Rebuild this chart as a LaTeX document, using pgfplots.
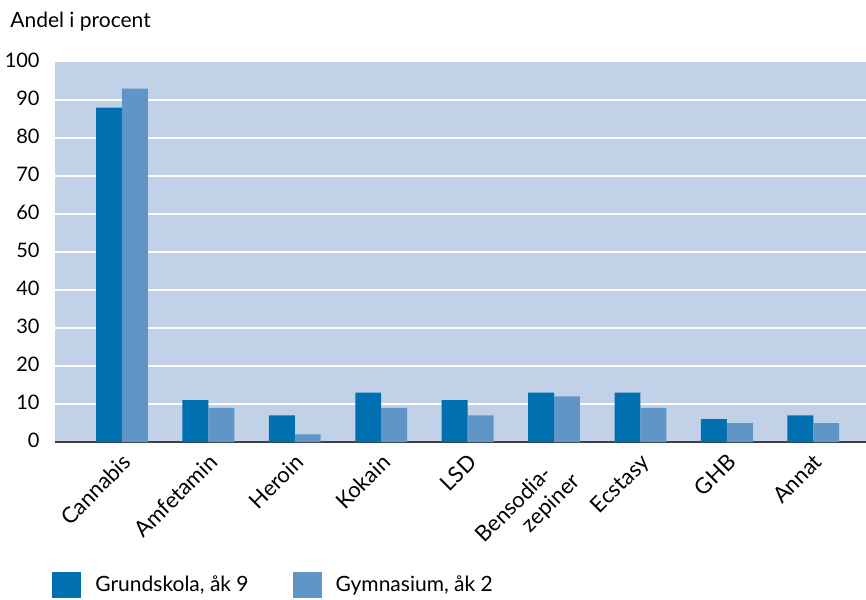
\documentclass[border=0pt]{standalone}
\usepackage{pgfplots}
\pgfplotsset{compat=1.18}
\usepackage{fontspec}
\setmainfont{Lato}
\definecolor{darkb}{HTML}{0070B0}
\definecolor{lightb}{HTML}{5F95C7}
\definecolor{bgb}{HTML}{C1D2E8}
\definecolor{axg}{HTML}{404040}
\begin{document}
\begin{tikzpicture}
\begin{axis}[
  scale only axis,
  width=405.5pt, height=190pt,
  font=\fontsize{10}{12}\selectfont,
  /pgf/number format/assume math mode=true,
  ybar=0pt, bar width=0.3,
  xmin=-0.775, xmax=8.61,
  ymin=0, ymax=100,
  xtick={0,...,8},
  xticklabels={Cannabis,Amfetamin,Heroin,Kokain,LSD,{Bensodia-\hspace*{8pt}\\\hspace*{20pt}\rlap{zepiner}},Ecstasy,GHB,Annat},
  xticklabel style={xshift=-0.5pt, yshift=-5pt, rotate=45, anchor=north east, inner sep=0pt, align=left, font=\fontsize{11}{12.5}\selectfont},
  ytick={0,10,...,90},
  extra y ticks={100},
  extra y tick style={grid=none},
  yticklabel style={inner sep=0pt, xshift=-7.5pt, yshift=1pt},
  ymajorgrids,
  major grid style={white, line width=1pt},
  major tick length=0pt,
  axis x line=bottom, axis y line=left,
  x axis line style={-, axg, line width=0.7pt},
  y axis line style={draw=none},
  axis background/.style={fill=bgb},
  legend columns=2,
  legend style={at={(rel axis cs:0,0)}, anchor=north west, xshift=-1.5pt, yshift=-65pt,
    draw=none, fill=none, inner sep=0pt,
    nodes={inner sep=0pt, anchor=west, font=\fontsize{10.5}{12}\selectfont},
    /tikz/every even column/.append style={column sep=22pt}},
  legend image code/.code={\fill[#1] (0pt,-6.5pt) rectangle (14.5pt,6.5pt); \path (21.5pt,0pt);},
]
\addplot[fill=darkb, draw=none] coordinates {(0,88) (1,11) (2,7) (3,13) (4,11) (5,13) (6,13) (7,6) (8,7)};
\addplot[fill=lightb, draw=none] coordinates {(0,93) (1,9) (2,2) (3,9) (4,7) (5,12) (6,9) (7,5) (8,5)};
\legend{{Grundskola, åk 9}, {Gymnasium, åk 2}}
\coordinate (sw) at (rel axis cs:0,0);
\coordinate (ne) at (rel axis cs:1,1);
\coordinate (nw) at (rel axis cs:0,1);
\end{axis}
\node[anchor=base west, inner sep=0pt] at ([xshift=-22.5pt, yshift=17pt]nw) {\fontsize{10.5}{12}\selectfont Andel i procent};
\pgfresetboundingbox
\path[use as bounding box] ([xshift=-27.5pt, yshift=-78.5pt]sw) rectangle ([yshift=31pt]ne);
\end{tikzpicture}
\end{document}
